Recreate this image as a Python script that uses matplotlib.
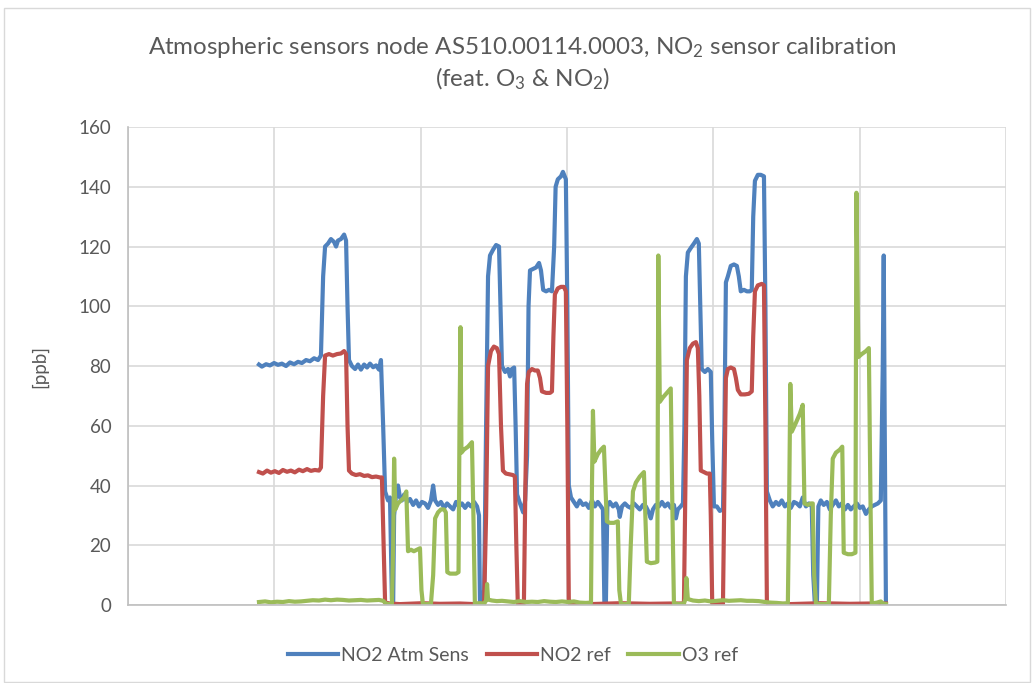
import matplotlib
matplotlib.use("Agg")
import matplotlib.pyplot as plt
from matplotlib.patches import Rectangle

plt.rcParams['font.family'] = ['Lato', 'DejaVu Sans']
plt.rcParams['mathtext.fontset'] = 'custom'
plt.rcParams['mathtext.rm'] = 'Lato'
plt.rcParams['mathtext.it'] = 'Lato'

# time in minutes, values in ppb
t_sens = [53.7, 54.9, 56.6, 58.2, 59.9, 61.5, 63.1, 64.8, 66.4, 68.1, 69.7, 71.3, 73.0, 74.6, 76.3, 77.9,
          79.1, 80.0, 80.8, 82.0, 83.2, 84.5, 85.3, 86.1, 87.3, 88.6, 89.4, 90.0, 90.6, 91.8, 93.1, 94.3,
          95.5, 96.8, 98.0, 99.2, 100.5, 101.7, 102.9, 103.7, 104.6, 105.4, 106.6, 107.4, 108.2, 108.7,
          109.1, 109.9, 110.7, 111.5, 112.3, 113.2, 114.4, 115.6, 116.9, 118.1, 119.3, 120.5, 121.8, 123.0,
          124.2, 125.1, 125.9, 127.1, 128.3, 129.6, 130.8, 132.0, 133.3, 134.5, 135.7, 136.9, 138.2, 139.4,
          140.6, 141.9, 143.1, 143.9, 144.3, 145.1, 146.0, 146.8, 147.6, 148.4, 149.7, 150.9, 152.1, 152.7,
          153.3, 154.6, 155.8, 156.6, 157.4, 158.3, 158.9, 159.5, 160.7, 162.0, 162.8, 163.6, 164.2, 164.8,
          166.1, 167.3, 168.5, 169.3, 170.2, 171.4, 172.6, 173.8, 174.7, 175.3, 176.2, 177.5, 178.3, 179.5,
          180.1, 180.7, 181.6, 182.8, 184.0, 185.2, 186.5, 187.7, 188.9, 190.2, 191.4, 192.6, 193.9, 194.7,
          195.3, 195.9, 196.5, 197.5, 198.8, 200.0, 201.2, 201.6, 202.5, 203.7, 204.9, 206.1, 207.4, 208.6,
          209.8, 211.1, 212.3, 213.5, 214.3, 215.2, 216.4, 217.6, 218.9, 220.1, 221.3, 222.5, 223.8, 224.6,
          225.4, 226.6, 227.5, 228.1, 228.7, 229.5, 230.7, 232.0, 233.2, 234.0, 234.6, 235.2, 236.5, 237.7,
          238.9, 239.5, 240.2, 241.4, 242.6, 243.9, 244.5, 245.1, 245.9, 247.1, 248.4, 249.6, 250.4, 251.2,
          252.5, 253.7, 254.9, 255.7, 256.3, 257.0, 258.2, 259.4, 260.7, 261.3, 261.9, 263.1, 264.3, 265.6,
          266.8, 268.0, 269.3, 270.5, 271.7, 273.0, 274.2, 275.4, 276.6, 277.9, 279.1, 280.3, 280.9, 281.6,
          282.4, 283.0, 284.0, 285.2, 286.5, 287.7, 288.9, 290.2, 291.4, 292.6, 293.9, 295.1, 296.3, 297.5,
          298.8, 300.0, 301.2, 302.5, 303.7, 304.9, 306.1, 307.4, 308.6, 309.4, 309.8, 310.2, 310.7]
no2_sens = [80.5, 79.8, 80.6, 80.2, 81.0, 80.4, 80.8, 80.0, 81.2, 80.6, 81.4, 81.0, 82.0, 81.6, 82.6, 82.0,
            83.5, 110, 120, 121, 122.5, 121.5, 120, 122, 122.5, 124, 122, 100, 82, 80, 79, 80.5,
            78.8, 80.5, 79.5, 80.8, 79.6, 80.2, 78.8, 82, 60, 38, 35, 36, 2, 0,
            30, 37, 40, 36, 35, 37, 34.5, 35.5, 33.5, 35, 33, 34.5, 34, 32.5,
            35, 40, 35, 33.5, 34.5, 32.5, 34, 33, 32, 34.5, 33, 34, 32.5, 34,
            33, 34.5, 33, 30, 0, 0, 5, 60, 110, 117, 119, 120.5, 120, 100,
            80, 78, 79, 76.5, 79, 79.5, 60, 37, 34, 31, 35, 50, 100, 112,
            112.5, 113, 114.5, 112, 105.5, 105, 105.5, 105, 120, 140, 142.5, 143.5, 145, 142.5,
            100, 40, 36, 34.5, 33, 35, 33.5, 34, 32.5, 35, 33, 34.5, 33, 32,
            0, 0, 33, 34.5, 33, 34, 32, 29.5, 33, 34, 33, 32.5, 34, 33,
            32, 33.5, 33, 31, 29, 32, 33.5, 33, 34.5, 33, 34, 32.5, 33.5, 29,
            32, 33, 34, 60, 110, 118, 119.5, 121, 122.5, 121, 100, 79, 78, 79,
            78, 55, 33, 33, 31.5, 32, 60, 108, 110, 113.5, 114, 113.5, 110, 105,
            105.5, 105, 105, 105.5, 130, 142, 144, 144, 143.5, 100, 38, 35, 33, 34.5,
            33.5, 35, 33, 34, 32.5, 34.5, 34, 33, 36, 33, 34, 33, 10, 0,
            0, 33, 35, 33.5, 34.5, 32, 33.5, 35, 33, 34, 32, 33.5, 32, 33,
            34, 32.5, 33, 30.5, 32, 33, 33.5, 34, 35, 80, 117, 60, 0]

t_ref = [53.7, 55.3, 57.0, 58.6, 60.2, 61.9, 63.5, 65.2, 66.8, 68.4, 70.1, 71.7, 73.4, 75.0, 76.6, 78.3,
         79.1, 80.0, 80.8, 82.4, 84.0, 85.7, 87.3, 88.6, 89.4, 90.0, 90.6, 91.8, 93.4, 95.1, 96.8, 98.4,
         100.0, 101.7, 103.3, 104.1, 104.8, 105.4, 107.4, 111.5, 120.5, 127.9, 136.1, 142.2, 146.0, 146.8,
         147.6, 148.8, 150.0, 151.2, 152.1, 152.9, 153.7, 154.9, 156.1, 157.8, 158.6, 159.2, 159.8, 162.3,
         162.9, 163.6, 164.3, 165.6, 166.8, 168.0, 168.9, 169.7, 171.4, 173.0, 173.8, 174.4, 175.0, 176.2,
         177.5, 178.7, 179.5, 180.1, 180.7, 181.1, 189.3, 201.6, 213.9, 222.1, 227.9, 228.5, 229.1, 230.3,
         231.6, 232.8, 233.6, 234.2, 234.8, 236.1, 237.3, 238.5, 238.9, 239.5, 243.9, 244.5, 245.1, 245.9,
         247.1, 248.4, 249.2, 250.0, 251.2, 252.9, 254.5, 255.7, 256.3, 257.0, 258.2, 259.8, 260.7, 261.3,
         261.9, 262.3, 271.3, 283.6, 295.9, 304.1, 310.7]
no2_ref = [44.5, 44.0, 45.0, 44.3, 44.8, 44.2, 45.2, 44.6, 45.0, 44.4, 45.3, 44.8, 45.5, 44.9, 45.2, 45.0,
           46, 70, 83.5, 84, 83.5, 84, 84.2, 85, 84, 60, 45, 44, 43.5, 43.8, 43.2, 43.4,
           42.8, 43, 42.7, 42.7, 20, 0.8, 0.5, 0.3, 0.6, 0.4, 0.5, 0.3, 0.5, 30,
           80, 85, 86.5, 86, 84, 60, 45, 44, 43.8, 43.5, 43, 20, 0.5, 0.5,
           40, 74, 78, 79, 78.5, 78.5, 76, 71.5, 71, 71, 71.5, 90, 104, 106,
           106.5, 106.5, 105, 60, 2, 0.5, 0.3, 0.6, 0.4, 0.5, 0.5, 40, 82, 86,
           87.5, 88, 86, 70, 45, 44.5, 44, 44, 30, 0.5, 0.5, 40, 76, 79,
           79.5, 79, 76, 72, 70.5, 70.5, 70.7, 71.5, 90, 105, 107, 107.5, 107, 60,
           1, 0.5, 0.3, 0.6, 0.4, 0.5, 0.5]

t_o3 = [53.7, 56.2, 58.6, 61.1, 63.5, 66.0, 68.4, 70.9, 73.4, 75.8, 78.3, 80.8, 83.2, 85.7, 88.1, 90.6,
        93.1, 95.5, 98.0, 100.5, 102.9, 104.6, 105.8, 107.4, 108.2, 108.7, 109.1, 109.6, 110.7, 111.9,
        113.2, 114.1, 114.8, 116.0, 117.2, 118.4, 119.7, 120.3, 120.9, 122.6, 124.2, 125.1, 125.9, 127.1,
        128.3, 129.6, 130.3, 130.9, 132.0, 133.3, 134.5, 135.5, 135.9, 136.3, 136.7, 137.7, 139.4, 141.0,
        141.6, 142.2, 144.3, 146.0, 146.8, 147.2, 147.6, 149.2, 151.2, 153.3, 155.8, 158.2, 160.7, 163.2,
        165.6, 168.0, 170.6, 173.0, 175.4, 177.9, 180.4, 182.8, 185.2, 187.7, 189.8, 190.2, 190.6, 191.2,
        192.6, 193.9, 195.1, 195.7, 196.3, 197.5, 199.2, 200.8, 201.4, 202.1, 204.1, 205.3, 206.1, 207.0,
        208.2, 209.8, 211.5, 212.1, 212.7, 214.3, 216.0, 217.0, 217.4, 218.0, 219.3, 220.9, 222.5, 223.2,
        223.8, 225.8, 227.9, 228.5, 228.9, 229.5, 231.6, 234.0, 236.5, 238.9, 241.4, 243.9, 246.3, 248.8,
        251.2, 253.7, 256.1, 258.6, 261.1, 263.5, 266.0, 268.4, 270.5, 271.1, 271.5, 272.1, 273.8, 275.4,
        276.6, 277.3, 278.7, 279.9, 280.7, 281.3, 282.0, 284.0, 286.1, 287.3, 288.1, 288.9, 290.2, 291.8,
        292.8, 293.4, 295.1, 296.7, 298.2, 298.6, 299.4, 300.8, 302.5, 303.7, 304.3, 304.9, 307.0, 308.6,
        309.4, 310.7]
o3_ref = [1.0, 1.2, 0.9, 1.1, 1.0, 1.3, 1.1, 1.2, 1.4, 1.6, 1.5, 1.8, 1.6, 1.8, 1.7, 1.5,
          1.6, 1.7, 1.5, 1.6, 1.7, 1.4, 0.5, 0.2, 0.5, 20, 49, 32, 34, 35,
          36, 38, 18, 18.5, 18, 18.5, 19, 5, 0.3, 0.3, 0.5, 10, 29, 31,
          32, 32, 31, 11, 10.5, 10.5, 10.5, 11, 60, 93, 51, 52, 53, 54.5,
          30, 0.5, 0.6, 0.5, 1.5, 7, 1.8, 1.5, 1.3, 1.4, 1.2, 1.0, 1.3, 1.0,
          1.1, 1.0, 1.3, 1.1, 1.0, 1.2, 1.0, 1.2, 0.8, 0.7, 0.8, 40, 65, 48,
          50.5, 52, 53, 40, 28, 27.5, 27.5, 28, 5, 0.3, 0.3, 0.5, 20, 38,
          41, 43, 44.5, 30, 14.5, 14, 14.2, 14.5, 117, 68, 69.5, 71, 72.5, 30,
          0.5, 0.3, 0.5, 2, 9, 2, 1.5, 1.3, 1.5, 1.2, 1.4, 1.6, 1.4, 1.5,
          1.6, 1.4, 1.4, 1.3, 1.0, 0.8, 0.7, 0.5, 0.6, 40, 74, 58, 61, 64,
          67, 34, 33.5, 34, 34, 10, 0.5, 0.3, 0.3, 0.5, 30, 49, 51, 52,
          53, 17.5, 17, 17, 17.5, 138, 83, 84, 85, 86, 40, 0.5, 0.8, 1.2,
          0.5, 0.3]

series_names = ['NO2 Atm Sens', 'NO2 ref', 'O3 ref']
colors = ['#4F81BD', '#C0504D', '#9BBB59']
grid_c = '#D9D9D9'
text_c = '#595959'

fig = plt.figure(figsize=(10.32, 6.83), dpi=100)
fig.patches.append(Rectangle((0.004, 0.002), 0.994, 0.986, transform=fig.transFigure,
                             fill=False, edgecolor='#D9D9D9', linewidth=1))
ax = fig.add_axes([0.124, 0.1142, 0.851, 0.6998])

lw = 3.0
ax.plot(t_sens, no2_sens, color=colors[0], lw=lw, label=series_names[0], solid_joinstyle='round')
ax.plot(t_ref, no2_ref, color=colors[1], lw=lw, label=series_names[1], solid_joinstyle='round')
ax.plot(t_o3, o3_ref, color=colors[2], lw=lw, label=series_names[2], solid_joinstyle='round')

ax.set_xlim(0, 360)
ax.set_ylim(0, 160)
ax.set_xticks(range(0, 361, 60))
ax.set_yticks(range(0, 161, 20))
ax.set_xticklabels([])
ax.tick_params(axis='both', length=0, labelsize=13.5, colors=text_c, pad=12)
ax.grid(True, color=grid_c, lw=1.2)
ax.set_axisbelow(True)
for s in ['top', 'right']:
    ax.spines[s].set_visible(False)
for s in ['left', 'bottom']:
    ax.spines[s].set_color('#BFBFBF')
    ax.spines[s].set_linewidth(1.2)
ax.set_ylabel('[ppb]', fontsize=13.5, color=text_c, labelpad=22)

fig.text(0.506, 0.931, 'Atmospheric sensors node AS510.00114.0003, NO$_2$ sensor calibration',
         ha='center', va='center', fontsize=17.4, color=text_c)
fig.text(0.506, 0.885, '(feat. O$_3$ & NO$_2$)', ha='center', va='center', fontsize=17.4, color=text_c)

fig.legend(loc='center', bbox_to_anchor=(0.497, 0.04), ncol=3, frameon=False, fontsize=14,
           handlelength=2.6, handletextpad=0.15, columnspacing=0.9, labelcolor=text_c)

fig.savefig('out.png', dpi=100)
